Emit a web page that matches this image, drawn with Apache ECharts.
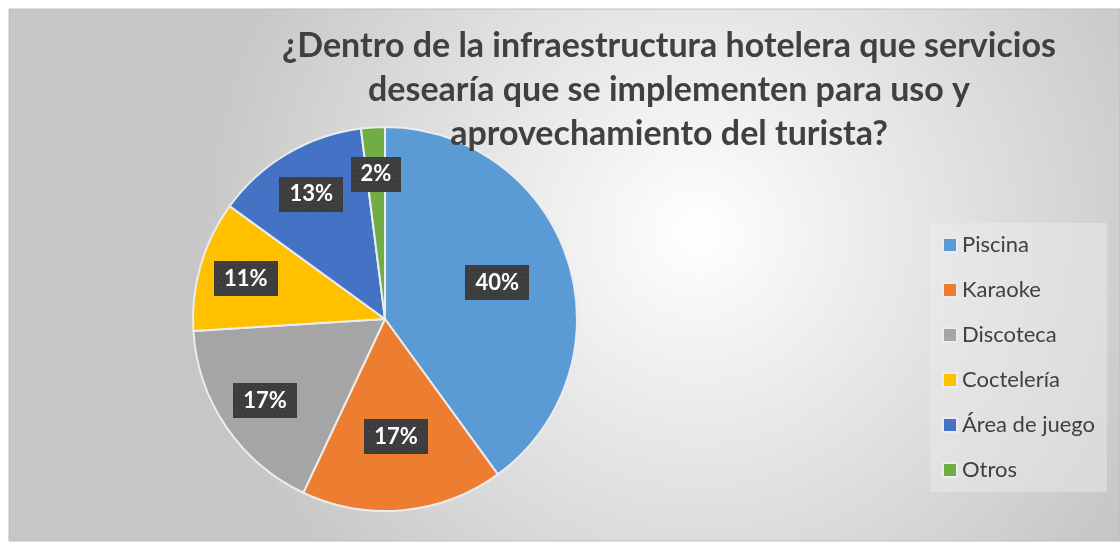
<!DOCTYPE html>
<html>
<head>
<meta charset="utf-8">
<script src="https://cdn.jsdelivr.net/npm/echarts@6/dist/echarts.min.js"></script>
<style>
  html, body { margin: 0; padding: 0; background: #fff; }
  #chart { width: 1120px; height: 543px; }
</style>
</head>
<body>
<div id="chart"></div>
<script>
// data (percent of answers)
const categories = ['Piscina', 'Karaoke', 'Discoteca', 'Coctelería', 'Área de juego', 'Otros']
const values = [40, 17, 17, 11, 13, 2]
const colors = ['#5B9BD5', '#ED7D31', '#A5A5A5', '#FFC000', '#4472C4', '#70AD47']
// Excel placed these labels closer to the centre
const nearLabels = ['Piscina', 'Karaoke']

const titleText = '¿Dentro de la infraestructura hotelera que servicios\ndesearía que se implementen para uso y\naprovechamiento del turista?'

// dotted dark fill used behind the data labels
function dotPattern(w, h) {
  const c = document.createElement('canvas')
  c.width = w
  c.height = h
  const ctx = c.getContext('2d')
  ctx.fillStyle = '#3d3d3d'
  ctx.fillRect(0, 0, w, h)
  ctx.fillStyle = '#575757'
  for (let y = 2; y < h; y += 5) {
    for (let x = (y % 2) ? 2 : 4; x < w; x += 5) {
      ctx.fillRect(x, y, 1, 1)
    }
  }
  return c
}

const labelBox = {
  show: true,
  position: 'inside',
  formatter: p => Math.round(p.percent) + '%',
  color: '#ffffff',
  fontFamily: 'Lato',
  fontWeight: 'bold',
  fontSize: 22,
  lineHeight: 22,
  padding: [7, 10, 6, 10],
  backgroundColor: { image: dotPattern(64, 36) },
  shadowColor: 'rgba(0,0,0,0.45)',
  shadowBlur: 6,
  shadowOffsetX: 3,
  shadowOffsetY: 3
}

const R = 192
const center = [385, 319]

function labelRing(inner, near) {
  return {
    type: 'pie',
    silent: true,
    center: center,
    radius: [inner, R],
    startAngle: 90,
    clockwise: true,
    z: 5,
    itemStyle: { color: 'rgba(0,0,0,0)', borderWidth: 0 },
    emphasis: { disabled: true },
    labelLine: { show: false },
    label: labelBox,
    data: categories.map((name, i) => ({
      name: name,
      value: values[i],
      label: { show: nearLabels.includes(name) === near }
    }))
  }
}

const chart = echarts.init(document.getElementById('chart'))
chart.setOption({
  animation: false,
  color: colors,
  graphic: [{
    type: 'rect',
    z: -10,
    silent: true,
    shape: { x: 9, y: 9, width: 1111, height: 532 },
    style: {
      fill: {
        type: 'radial', x: 0.62, y: 0.42, r: 0.95,
        colorStops: [
          { offset: 0, color: '#ffffff' },
          { offset: 1, color: '#c6c6c6' }
        ]
      },
      stroke: '#bdbdbd',
      lineWidth: 1
    }
  }],
  title: {
    text: titleText,
    left: 664,
    top: 19,
    textAlign: 'center',
    textStyle: {
      fontFamily: 'Lato',
      fontWeight: 'bold',
      fontSize: 34,
      lineHeight: 44,
      color: '#404040'
    }
  },
  legend: {
    orient: 'vertical',
    left: 930,
    top: 223,
    padding: [11, 12, 11, 12],
    backgroundColor: 'rgba(238,238,238,0.45)',
    icon: 'rect',
    itemWidth: 14,
    itemHeight: 14,
    itemGap: 23,
    data: categories,
    textStyle: {
      fontFamily: 'Lato',
      fontSize: 22,
      lineHeight: 20,
      color: '#404040'
    }
  },
  series: [
    {
      type: 'pie',
      center: center,
      radius: R,
      startAngle: 90,
      clockwise: true,
      itemStyle: { borderColor: '#ececec', borderWidth: 2 },
      emphasis: { disabled: true },
      label: { show: false },
      labelLine: { show: false },
      data: categories.map((name, i) => ({ name: name, value: values[i] }))
    },
    labelRing(38, true),
    labelRing(92, false)
  ]
})
</script>
</body>
</html>
